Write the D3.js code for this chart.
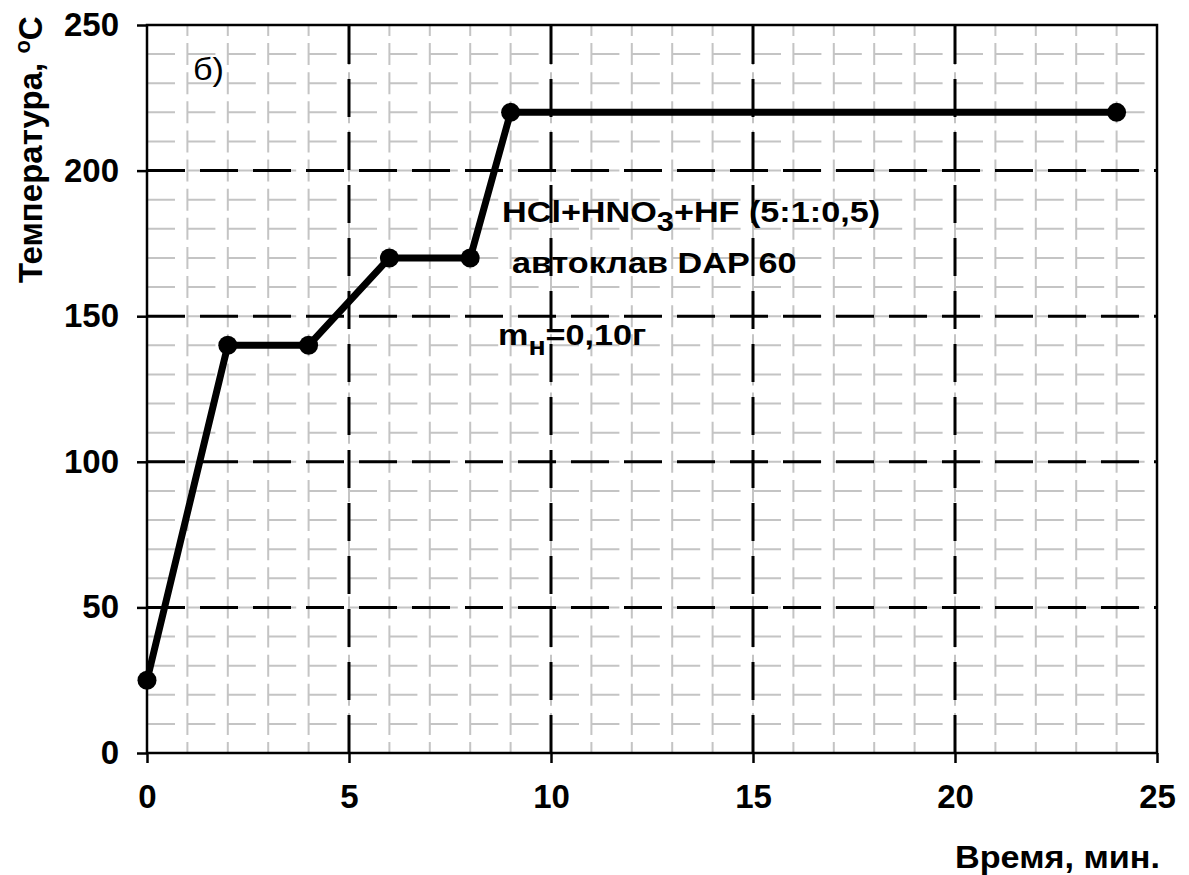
<!DOCTYPE html>
<html><head><meta charset="utf-8">
<script src="https://cdn.jsdelivr.net/npm/d3@7"></script>
<style>
body{margin:0;background:#fff;}
text{font-family:"Liberation Sans",Arial,sans-serif;}
</style></head>
<body>
<svg id="chart" width="1189" height="875"></svg>
<script>
const timeMin = [0, 2, 4, 6, 8, 9, 24];
const tempC = [25, 140, 140, 170, 170, 220, 220];
const xTicks = [0, 5, 10, 15, 20, 25];
const yTicks = [0, 50, 100, 150, 200, 250];
const xMinor = d3.range(0, 26, 1);
const yMinor = d3.range(0, 251, 10);

const svg = d3.select("#chart");
const L = 147, R = 1157, T = 25, B = 753;
const x = d3.scaleLinear().domain([0, 25]).range([L, R]);
const y = d3.scaleLinear().domain([0, 250]).range([B, T]);

// minor grid
const g = svg.append("g");
g.selectAll(".vm").data(xMinor).join("line")
  .attr("x1", d => x(d)).attr("x2", d => x(d)).attr("y1", y(0)).attr("y2", y(250))
  .attr("stroke", "#c4c4c4").attr("stroke-width", 2)
  .attr("stroke-dasharray", "22 7.12").attr("stroke-dashoffset", 11);
g.selectAll(".hm").data(yMinor).join("line")
  .attr("x1", x(0)).attr("x2", x(25)).attr("y1", d => y(d)).attr("y2", d => y(d))
  .attr("stroke", "#c4c4c4").attr("stroke-width", 2)
  .attr("stroke-dasharray", "28 12.4");

// major dashed grid
svg.selectAll(".vM").data(xTicks.filter(v => v > 0 && v < 25)).join("line")
  .attr("x1", d => x(d)).attr("x2", d => x(d)).attr("y1", y(0)).attr("y2", y(250))
  .attr("stroke", "#000").attr("stroke-width", 3).attr("stroke-dasharray", "38 15");
svg.selectAll(".hM").data(yTicks.filter(v => v > 0 && v < 250)).join("line")
  .attr("x1", x(0)).attr("x2", x(25)).attr("y1", d => y(d)).attr("y2", d => y(d))
  .attr("stroke", "#000").attr("stroke-width", 3).attr("stroke-dasharray", "38 15");

// frame
svg.append("rect").attr("x", L).attr("y", T).attr("width", R - L).attr("height", B - T)
  .attr("fill", "none").attr("stroke", "#000").attr("stroke-width", 2.5);

// axes
const xAxis = svg.append("g").attr("transform", `translate(0,${B})`)
  .call(d3.axisBottom(x).tickValues(xTicks).tickSize(10).tickPadding(22).tickFormat(d3.format("d")));
const yAxis = svg.append("g").attr("transform", `translate(${L},0)`)
  .call(d3.axisLeft(y).tickValues(yTicks).tickSize(10).tickPadding(18).tickFormat(d3.format("d")));
[xAxis, yAxis].forEach(a => {
  a.select(".domain").remove();
  a.selectAll(".tick line").attr("stroke", "#000").attr("stroke-width", 2.5);
  a.selectAll(".tick text").attr("fill", "#000").style("font-size", "33px").style("font-weight", "bold")
    .style("font-family", '"Liberation Sans", Arial, sans-serif');
});

// data line
const line = d3.line().x((d, i) => x(timeMin[i])).y(d => y(d));
svg.append("path").datum(tempC).attr("d", line)
  .attr("fill", "none").attr("stroke", "#000").attr("stroke-width", 7).attr("stroke-linejoin", "round");
svg.selectAll(".pt").data(tempC).join("circle")
  .attr("cx", (d, i) => x(timeMin[i])).attr("cy", d => y(d)).attr("r", 9.5).attr("fill", "#000");

// titles
svg.append("text").attr("transform", "translate(1160,868) scale(1.07,1)").attr("text-anchor", "end")
  .style("font-size", "32px").style("font-weight", "bold").text("Время, мин.");
const yt = svg.append("text").attr("transform", "translate(42,283) rotate(-90)")
  .style("font-size", "33px").style("font-weight", "bold");
yt.append("tspan").text("Температура, ");
yt.append("tspan").attr("dy", -12).style("font-size", "22px").text("o");
yt.append("tspan").attr("dy", 12).text("C");

// annotations
svg.append("text").attr("transform", "translate(193,80) scale(1.07,1)").style("font-size", "32px").text("б)");
const a1 = svg.append("text").attr("transform", "translate(502,222) scale(1.14,1)")
  .style("font-size", "30px").style("font-weight", "bold");
a1.append("tspan").text("HCl+HNO");
a1.append("tspan").attr("dy", 9).style("font-size", "27px").text("3");
a1.append("tspan").attr("dy", -9).text("+HF (5:1:0,5)");
svg.append("text").attr("transform", "translate(512,273) scale(1.14,1)")
  .style("font-size", "30px").style("font-weight", "bold").text("автоклав DAP 60");
const a3 = svg.append("text").attr("transform", "translate(498,345) scale(1.14,1)")
  .style("font-size", "30px").style("font-weight", "bold");
a3.append("tspan").text("m");
a3.append("tspan").attr("dy", 10).style("font-size", "25px").text("н");
a3.append("tspan").attr("dy", -10).text("=0,10г");
</script>
</body></html>
